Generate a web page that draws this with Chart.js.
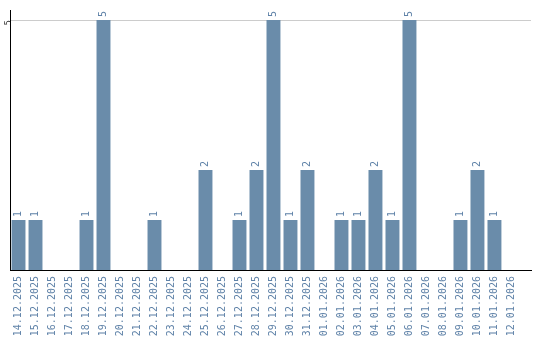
<!DOCTYPE html>
<html>
<head>
<meta charset="utf-8">
<script src="https://cdn.jsdelivr.net/npm/chart.js@4/dist/chart.umd.min.js"></script>
<style>
html,body{margin:0;padding:0;background:#fff;}
#wrap{width:540px;height:340px;position:relative;}
</style>
</head>
<body>
<div id="wrap"><canvas id="c" width="540" height="340"></canvas></div>
<script>
const categories = ["14.12.2025","15.12.2025","16.12.2025","17.12.2025","18.12.2025","19.12.2025","20.12.2025","21.12.2025","22.12.2025","23.12.2025","24.12.2025","25.12.2025","26.12.2025","27.12.2025","28.12.2025","29.12.2025","30.12.2025","31.12.2025","01.01.2026","02.01.2026","03.01.2026","04.01.2026","05.01.2026","06.01.2026","07.01.2026","08.01.2026","09.01.2026","10.01.2026","11.01.2026","12.01.2026"];
const counts = [1,1,0,0,1,5,0,0,1,0,0,2,0,1,2,5,1,2,0,1,1,2,1,5,0,0,1,2,1,0];
const yTickValues = [5];

const FONT = {family: "'DejaVu Sans Mono', monospace", size: 10};
const BAR = '#6a8caa';
const LABEL = '#5f82a8';

const valueLabels = {
  id: 'valueLabels',
  afterDatasetsDraw(chart) {
    const ctx = chart.ctx;
    const meta = chart.getDatasetMeta(0);
    ctx.save();
    ctx.font = FONT.size + 'px ' + FONT.family;
    ctx.fillStyle = LABEL;
    ctx.textAlign = 'left';
    ctx.textBaseline = 'middle';
    meta.data.forEach((bar, i) => {
      const v = counts[i];
      if (!v) return;
      ctx.save();
      ctx.translate(bar.x, bar.y - 3);
      ctx.rotate(-Math.PI / 2);
      ctx.fillText(String(v), 0, 0);
      ctx.restore();
    });
    ctx.restore();
  }
};

new Chart(document.getElementById('c'), {
  type: 'bar',
  data: {
    labels: categories,
    datasets: [{
      data: counts,
      backgroundColor: BAR,
      borderWidth: 0,
      barPercentage: 0.82,
      categoryPercentage: 1.0
    }]
  },
  options: {
    responsive: false,
    animation: false,
    devicePixelRatio: 1,
    layout: {padding: {top: 10, right: 9, left: 0, bottom: 0}},
    plugins: {legend: {display: false}, tooltip: {enabled: false}},
    scales: {
      x: {
        grid: {display: false, drawTicks: false},
        border: {display: true, color: '#000', width: 1},
        ticks: {
          color: LABEL, font: FONT, minRotation: 90, maxRotation: 90,
          autoSkip: false, padding: 6
        },
        afterBuildTicks(s) {
          // leave empty room after the last category, as in the reference
          s._valueRange = categories.length + 0.65;
        },
        afterFit(s) { s.height = 70; }
      },
      y: {
        min: 0, max: 5.2,
        afterBuildTicks(s) { s.ticks = yTickValues.map(v => ({value: v})); },
        grid: {color: '#cccccc', drawTicks: false, lineWidth: 1},
        border: {display: true, color: '#000', width: 1},
        ticks: {color: '#333', font: {family: FONT.family, size: 9}, minRotation: 90, maxRotation: 90, padding: 1},
        afterFit(s) { s.width = 10; }
      }
    }
  },
  plugins: [valueLabels]
});
</script>
</body>
</html>
